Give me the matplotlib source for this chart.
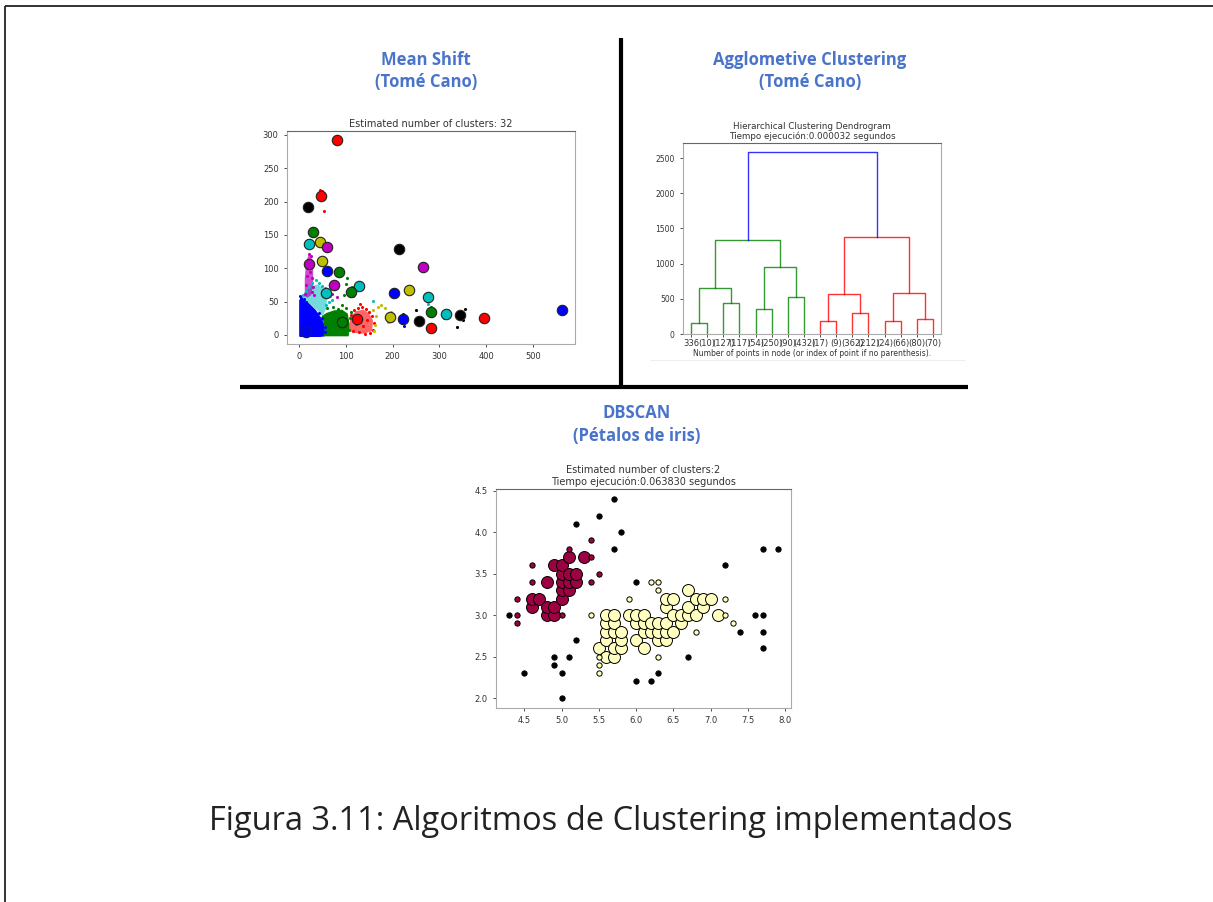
import matplotlib
matplotlib.use("Agg")
import matplotlib.pyplot as plt
import numpy as np
from matplotlib.lines import Line2D
from matplotlib.patches import Polygon

W, H = 1213, 902

# ---- Mean Shift: cluster centres (x, y, colour) ----
ms_centers = [
    (80, 292, "r"), (46.5, 208.5, "r"), (18.6, 191.5, "k"), (28.6, 154, "g"),
    (21.5, 137, "c"), (44.3, 140, "y"), (60, 131.5, "m"), (48.6, 111.5, "y"),
    (20, 106.5, "m"), (60, 96.5, "b"), (85.7, 94, "g"), (74.4, 75, "m"),
    (127, 73.5, "c"), (111.5, 65, "g"), (57.2, 63.5, "c"), (213, 128.5, "k"),
    (265.7, 102.5, "m"), (203.6, 62.5, "b"), (234.4, 67.5, "y"), (276.5, 56.5, "c"),
    (281.5, 35, "g"), (313.6, 31, "c"), (344.3, 30, "k"), (394.3, 25, "r"),
    (562, 37.5, "b"), (256.5, 21.5, "k"), (281.5, 10, "r"), (221.5, 23.5, "b"),
    (194.3, 27.5, "y"), (123, 24, "r"), (90.8, 20, "g"), (14.4, 4, "b"),
]

# dense cores of the biggest clusters, outlined by hand
ms_blobs = {
    "b": [(0, -2), (0, 52), (3, 56), (10, 54), (22, 47), (35, 38), (45, 28), (52, 20),
          (55, 10), (55, -2), (45, -3), (2, -3)],
    "c": [(4, 56), (12, 64), (25, 73), (40, 76), (52, 70), (60, 58), (58, 40),
          (50, 28), (40, 36), (26, 45), (12, 52)],
    "g": [(52, -2), (55, 8), (52, 20), (48, 28), (58, 33), (75, 37), (92, 38),
          (104, 32), (108, 16), (106, -2)],
    "r": [(106, 6), (110, 28), (122, 36), (138, 38), (150, 32), (158, 22),
          (156, 6), (140, 2), (120, 3)],
    "m": [(12, 58), (12, 85), (15, 110), (20, 120), (26, 118), (30, 100),
          (30, 75), (26, 60), (18, 56)],
}
blob_alpha = {"b": 1.0, "c": 0.55, "g": 1.0, "r": 0.6, "m": 0.7}

# loose member points around the cores
ms_points = {
    "b": [(2, 58), (5, 55), (10, 54), (15, 50), (42, 33), (48, 25), (55, 12), (56, 4),
          (222, 32), (224, 14), (219, 18)],
    "c": [(8, 60), (15, 66), (22, 72), (28, 78), (35, 82), (42, 78), (48, 74), (55, 70),
          (60, 66), (63, 50), (58, 45), (66, 58), (70, 52), (158, 51), (319, 38),
          (310, 25), (276, 47)],
    "m": [(12, 62), (14, 75), (16, 88), (18, 100), (20, 112), (22, 122), (26, 118),
          (24, 95), (28, 85), (30, 72), (27, 64), (32, 60), (80, 57), (70, 62)],
    "g": [(60, 40), (72, 42), (84, 39), (91, 45), (96, 60), (101, 77), (102, 85),
          (112, 72), (115, 58), (108, 68), (100, 41), (110, 34), (109, 25), (107, 8),
          (88, 92), (282, 42), (284, 28), (30, 160), (25, 150)],
    "r": [(110, 30), (118, 37), (126, 41), (135, 42), (142, 39), (150, 35), (156, 28),
          (160, 18), (158, 8), (152, 3), (140, 2), (128, 4), (116, 6), (130, 47),
          (146, 22), (136, 14), (122, 16), (44, 218), (48, 216), (51, 204), (53, 186)],
    "y": [(158, 37), (169, 42), (176, 45), (183, 40), (164, 28), (162, 15), (161, 6),
          (190, 20), (196, 35), (200, 31)],
    "k": [(250, 38), (337, 12), (355, 39), (350, 22), (262, 19)],
}

# ---- Agglomerative clustering dendrogram ----
leaf_labels = ["336", "(10)", "(127)", "(117)", "(54)", "(250)", "(90)", "(432)",
               "(17)", "(9)", "(362)", "(212)", "(24)", "(66)", "(80)", "(70)"]
pair_heights = [152, 446, 356, 522, 190, 304, 190, 209]
quad_heights = [659, 949, 565, 579]
half_heights = [1338, 1385]
root_height = 2585

# ---- DBSCAN on iris sepal length / width ----
noise_pts = [(4.3, 3.0), (4.5, 2.3), (4.9, 2.5), (4.9, 2.4), (5.0, 2.3), (5.0, 2.0),
             (5.1, 2.5), (5.2, 2.7), (5.2, 4.1), (5.5, 4.2), (5.7, 4.4), (5.8, 4.0),
             (5.7, 3.8), (6.0, 3.4), (6.0, 2.2), (6.2, 2.2), (6.3, 2.3), (6.7, 2.5),
             (7.2, 3.6), (7.4, 2.8), (7.6, 3.0), (7.7, 3.0), (7.7, 2.8), (7.7, 2.6),
             (7.7, 3.8), (7.9, 3.8)]
c0_border = [(4.4, 3.2), (4.4, 3.0), (4.4, 2.9), (4.6, 3.6), (4.6, 3.4), (5.1, 3.8),
             (5.4, 3.9), (5.4, 3.7), (5.5, 3.5), (5.4, 3.4), (5.0, 3.0)]
c0_core = [(4.6, 3.1), (4.6, 3.2), (4.7, 3.2), (4.8, 3.0), (4.8, 3.1), (4.8, 3.4),
           (4.9, 3.0), (4.9, 3.1), (4.9, 3.6), (5.0, 3.2), (5.0, 3.3), (5.0, 3.4),
           (5.0, 3.5), (5.0, 3.6), (5.1, 3.3), (5.1, 3.4), (5.1, 3.5), (5.1, 3.7),
           (5.2, 3.4), (5.2, 3.5), (5.3, 3.7)]
c1_border = [(5.4, 3.0), (5.5, 2.5), (5.5, 2.4), (5.5, 2.3), (5.9, 3.2), (6.2, 3.4),
             (6.3, 3.4), (6.3, 3.3), (6.3, 2.5), (6.8, 2.8), (7.2, 3.2), (7.2, 3.0),
             (7.3, 2.9)]
c1_core = [(5.5, 2.6), (5.6, 2.5), (5.6, 2.7), (5.6, 2.8), (5.6, 2.9), (5.6, 3.0),
           (5.7, 2.5), (5.7, 2.6), (5.7, 2.8), (5.7, 2.9), (5.7, 3.0), (5.8, 2.6),
           (5.8, 2.7), (5.8, 2.8), (5.9, 3.0), (6.0, 2.7), (6.0, 2.9), (6.0, 3.0),
           (6.1, 2.6), (6.1, 2.8), (6.1, 2.9), (6.1, 3.0), (6.2, 2.8), (6.2, 2.9),
           (6.3, 2.7), (6.3, 2.8), (6.3, 2.9), (6.4, 2.7), (6.4, 2.8), (6.4, 2.9),
           (6.4, 3.1), (6.4, 3.2), (6.5, 2.8), (6.5, 3.0), (6.5, 3.2), (6.6, 2.9),
           (6.6, 3.0), (6.7, 3.0), (6.7, 3.1), (6.7, 3.3), (6.8, 3.0), (6.8, 3.2),
           (6.9, 3.1), (6.9, 3.2), (7.0, 3.2), (7.1, 3.0)]

TXT = "#333333"
SPINE = "#aaaaaa"
HEAD = "#4a74c9"


def px_axes(fig, left, top, right, bottom):
    """Add axes from pixel box on the page."""
    return fig.add_axes([left / W, 1 - bottom / H, (right - left) / W, (bottom - top) / H])


def style_axes(ax, size=6):
    for name, sp in ax.spines.items():
        sp.set_color(SPINE)
        sp.set_linewidth(0.8)
    ax.spines["top"].set_color("#666666")
    ax.tick_params(labelsize=size, colors=TXT, length=2.5, width=0.6)


def fig_line(fig, xs, ys, lw, color="black"):
    fig.add_artist(Line2D([x / W for x in xs], [1 - y / H for y in ys],
                          lw=lw, color=color, solid_capstyle="butt"))


fig = plt.figure(figsize=(W / 100, H / 100), dpi=100)
fig.patch.set_facecolor("white")

# page frame and panel separators
fig_line(fig, [5, 5], [6, 902], 1.3, "#222222")
fig_line(fig, [5, 1213], [6, 6], 1.3, "#222222")
fig_line(fig, [621, 621], [38, 389], 3.0)
fig_line(fig, [240, 968], [387, 387], 3.0)

heads = [
    (426, 60, "Mean Shift"), (426, 82, "(Tomé Cano)"),
    (810, 60, "Agglometive Clustering"), (810, 82, "(Tomé Cano)"),
    (637, 413, "DBSCAN"), (637, 436, "(Pétalos de iris)"),
]
for x, y, s in heads:
    fig.text(x / W, 1 - y / H, s, ha="center", va="center", color=HEAD,
             fontsize=12, fontweight="bold", family="Open Sans")

fig.text(611 / W, 1 - 822 / H, "Figura 3.11: Algoritmos de Clustering implementados",
         ha="center", va="center", fontsize=23.5, color="#222222", family="Open Sans")

# ---- Mean Shift panel ----
ax1 = px_axes(fig, 287, 131, 575, 344)
for col, verts in ms_blobs.items():
    ax1.add_patch(Polygon(verts, closed=True, facecolor=col, edgecolor="none",
                          alpha=blob_alpha[col], zorder=1))
for col, pts in ms_points.items():
    xs, ys = zip(*pts)
    ax1.scatter(xs, ys, s=5, c=col, linewidths=0, zorder=2)
for x, y, col in ms_centers:
    ax1.plot(x, y, "o", mfc=col, mec="#222222", ms=7.5, mew=0.8, zorder=3)
ax1.set_xlim(-26, 590)
ax1.set_ylim(-13.5, 306)
ax1.set_xticks([0, 100, 200, 300, 400, 500])
ax1.set_yticks([0, 50, 100, 150, 200, 250, 300])
ax1.set_title("Estimated number of clusters: %d" % len(ms_centers),
              fontsize=7, color=TXT, pad=3)
style_axes(ax1)

# ---- dendrogram panel ----
ax2 = px_axes(fig, 683, 143, 941, 334)
leaf_x = np.arange(len(leaf_labels)) * 10 + 5


def link(ax, xl, hl, xr, hr, h, col):
    ax.plot([xl, xl, xr, xr], [hl, h, h, hr], color=col, lw=1.0, alpha=0.8)
    return (xl + xr) / 2


pair_x = []
for i, h in enumerate(pair_heights):
    col = "g" if i < 4 else "r"
    pair_x.append(link(ax2, leaf_x[2 * i], 0, leaf_x[2 * i + 1], 0, h, col))
quad_x = []
for i, h in enumerate(quad_heights):
    col = "g" if i < 2 else "r"
    quad_x.append(link(ax2, pair_x[2 * i], pair_heights[2 * i],
                       pair_x[2 * i + 1], pair_heights[2 * i + 1], h, col))
half_x = []
for i, h in enumerate(half_heights):
    col = "g" if i == 0 else "r"
    half_x.append(link(ax2, quad_x[2 * i], quad_heights[2 * i],
                       quad_x[2 * i + 1], quad_heights[2 * i + 1], h, col))
link(ax2, half_x[0], half_heights[0], half_x[1], half_heights[1], root_height, "b")

ax2.set_xlim(0, 10 * len(leaf_labels))
ax2.set_ylim(0, root_height * 1.05)
ax2.set_xticks(leaf_x)
ax2.set_xticklabels(leaf_labels)
ax2.set_yticks([0, 500, 1000, 1500, 2000, 2500])
ax2.set_title("Hierarchical Clustering Dendrogram\nTiempo ejecución:0.000032 segundos",
              fontsize=6.3, color=TXT, pad=3, linespacing=1.1)
ax2.set_xlabel("Number of points in node (or index of point if no parenthesis).",
               fontsize=5.5, color=TXT, labelpad=1)
style_axes(ax2, 5.5)
ax2.tick_params(axis="x", labelsize=6, pad=1)
fig_line(fig, [650, 965], [360, 360], 0.8, "#eeeeee")

# ---- DBSCAN panel ----
ax3 = px_axes(fig, 496, 489, 791, 708)
groups = [
    (c0_core, "#9e0142", 8.6), (c1_core, "#ffffbf", 8.6),
    (c0_border, "#9e0142", 3.8), (c1_border, "#ffffbf", 3.8), (noise_pts, "k", 3.8),
]
for pts, col, ms in groups:
    xs, ys = zip(*pts)
    ax3.plot(xs, ys, "o", mfc=col, mec="k", ms=ms, mew=0.7, ls="none")
ax3.set_xlim(4.12, 8.08)
ax3.set_ylim(1.88, 4.52)
ax3.set_xticks([4.5, 5.0, 5.5, 6.0, 6.5, 7.0, 7.5, 8.0])
ax3.set_yticks([2.0, 2.5, 3.0, 3.5, 4.0, 4.5])
ax3.set_title("Estimated number of clusters:2\nTiempo ejecución:0.063830 segundos",
              fontsize=7, color=TXT, pad=3, linespacing=1.1)
style_axes(ax3)

fig.savefig("out.png", dpi=100, facecolor="white")
